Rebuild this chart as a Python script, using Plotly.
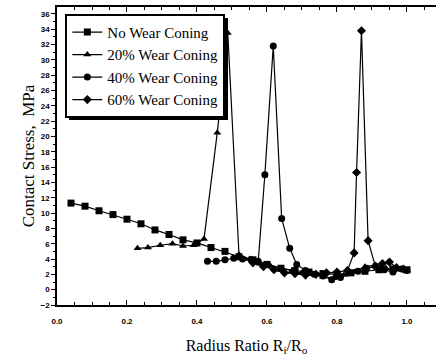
import plotly.graph_objects as go

# ---- data ----
nw_x = [0.04, 0.08, 0.12, 0.16, 0.20, 0.24, 0.28, 0.32, 0.36, 0.40, 0.44, 0.48, 0.52,
        0.56, 0.60, 0.64, 0.68, 0.72, 0.76, 0.80, 0.84, 0.88, 0.92, 0.96, 1.00]
nw_y = [11.3, 10.9, 10.3, 9.8, 9.2, 8.6, 7.8, 7.2, 6.5, 6.1, 5.5, 5.0, 4.3,
        3.9, 3.3, 2.8, 2.5, 2.3, 2.1, 2.0, 2.2, 2.4, 2.6, 2.7, 2.6]

w20_x = [0.23, 0.26, 0.295, 0.33, 0.36, 0.39, 0.42, 0.458, 0.488, 0.52, 0.55, 0.58, 0.61,
         0.64, 0.67, 0.70, 0.73, 0.76, 0.79, 0.82, 0.85, 0.88, 0.91, 0.94, 0.97, 1.00]
w20_y = [5.4, 5.5, 5.8, 6.0, 5.7, 5.8, 6.6, 20.5, 33.5, 4.6, 4.0, 3.4, 3.1,
         2.8, 2.4, 2.2, 2.0, 1.7, 1.5, 1.9, 2.3, 3.0, 3.2, 2.8, 2.6, 2.5]

w40_x = [0.43, 0.455, 0.48, 0.505, 0.53, 0.555, 0.575, 0.594, 0.618, 0.642, 0.665, 0.685,
         0.71, 0.735, 0.76, 0.785, 0.81, 0.835, 0.86, 0.885, 0.91, 0.935, 0.96, 0.985, 1.00]
w40_y = [3.7, 3.7, 3.9, 4.1, 4.0, 3.9, 3.7, 15.0, 31.8, 9.3, 5.4, 3.3,
         2.5, 2.0, 1.8, 1.3, 1.6, 2.2, 2.4, 2.8, 3.1, 2.6, 2.3, 2.7, 2.5]

w60_x = [0.56, 0.59, 0.62, 0.65, 0.68, 0.71, 0.74, 0.77, 0.80, 0.83, 0.849, 0.856,
         0.870, 0.889, 0.91, 0.93, 0.95, 0.97, 0.99]
w60_y = [3.5, 3.0, 2.6, 2.2, 2.1, 1.9, 2.0, 2.2, 2.3, 2.5, 4.8, 15.3,
         33.8, 6.4, 3.0, 3.4, 3.6, 2.9, 2.7]

series = [
    ("No Wear Coning", nw_x, nw_y, "square"),
    ("20% Wear Coning", w20_x, w20_y, "triangle-up"),
    ("40% Wear Coning", w40_x, w40_y, "circle"),
    ("60% Wear Coning", w60_x, w60_y, "diamond"),
]

x_ticks = [0.0, 0.2, 0.4, 0.6, 0.8, 1.0]
x_tick_labels = ["0.0", "0.2", "0.4", "0.6", "0.8", "1.0"]
y_ticks = list(range(-2, 37, 2))

fig = go.Figure()
for name, xs, ys, sym in series:
    fig.add_trace(go.Scatter(
        x=xs, y=ys, name=name, mode="lines+markers",
        line=dict(color="black", width=1.2),
        marker=dict(symbol=sym, size=7, color="black"),
    ))

W, H = 436, 360
L, R, T, B = 57, 0, 7, 55
PW, PH = W - L - R, H - T - B


def px_to_paper(px, py):
    return (px - L) / PW, (H - B - py) / PH


# legend drop shadow (black block offset right/down)
sx0, sy0 = px_to_paper(69, 18)
sx1, sy1 = px_to_paper(228, 120)
fig.add_shape(type="rect", xref="paper", yref="paper",
              x0=sx0, x1=sx1, y0=sy1, y1=sy0,
              fillcolor="black", line=dict(width=0), layer="above")

fig.update_layout(
    width=W, height=H,
    margin=dict(l=L, r=R, t=T, b=B),
    plot_bgcolor="white", paper_bgcolor="white",
    font=dict(family="Liberation Serif", color="black"),
    showlegend=True,
    legend=dict(
        x=0.022, y=0.977, xanchor="left", yanchor="top",
        bgcolor="white", bordercolor="black", borderwidth=2,
        font=dict(family="Liberation Serif", size=15, color="black"),
        tracegroupgap=0,
    ),
    xaxis=dict(
        range=[0, 1.083], tickvals=x_ticks, ticktext=x_tick_labels,
        showgrid=False, zeroline=False,
        showline=True, linecolor="black", linewidth=1.5, mirror="ticks",
        ticks="inside", ticklen=5, tickcolor="black",
        minor=dict(ticks="inside", ticklen=3, dtick=0.05, tickcolor="black"),
        tickfont=dict(family="Liberation Sans", size=8, weight="bold"),
        ticklabelstandoff=8,
        title=dict(text="Radius Ratio R<sub>i</sub>/R<sub>o</sub>",
                   font=dict(family="Liberation Serif", size=16), standoff=14),
    ),
    yaxis=dict(
        range=[-2, 36.9], tickvals=y_ticks,
        showgrid=False, zeroline=False,
        showline=True, linecolor="black", linewidth=1.5,
        ticks="outside", ticklen=4, tickcolor="black",
        minor=dict(ticks="outside", ticklen=2, dtick=1, tickcolor="black"),
        tickfont=dict(family="Liberation Sans", size=8, weight="bold"),
        title=dict(text="Contact Stress,  MPa",
                   font=dict(family="Liberation Serif", size=17), standoff=2),
    ),
)

fig.write_html("out.html")
